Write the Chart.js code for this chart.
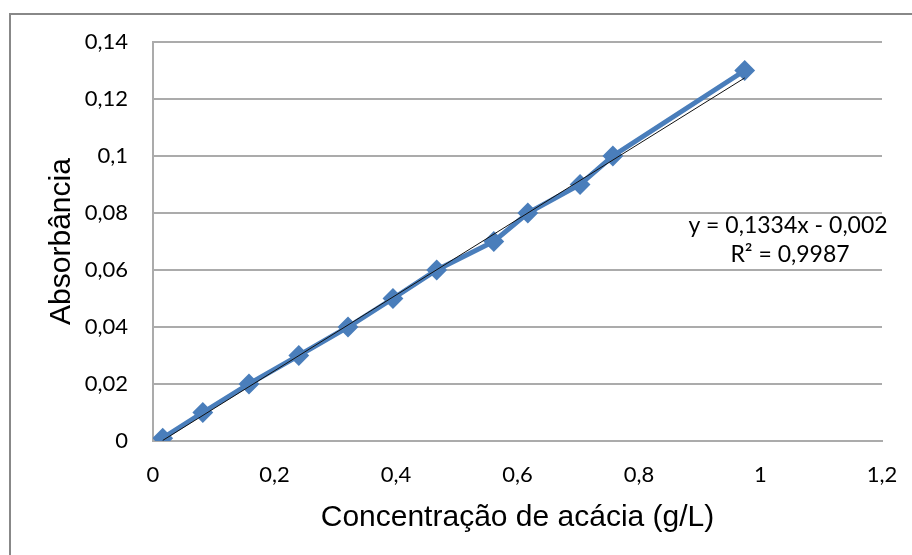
<!DOCTYPE html>
<html>
<head>
<meta charset="utf-8">
<script src="https://cdn.jsdelivr.net/npm/chart.js@4.4.1/dist/chart.umd.min.js"></script>
<style>
    html, body { margin: 0; padding: 0; background: #fff; }
    .frame {
        position: absolute; left: 9px; top: 13px; right: 0; bottom: 0;
        border-left: 2px solid #888; border-top: 2px solid #888;
    }
    #curve { position: absolute; left: 0; top: 0; }
</style>
</head>
<body>
<div class="frame"></div>
<canvas id="curve" width="912" height="555"></canvas>
<script>
// Calibration data (concentration in g/L, absorbance)
const concentration = [0.016, 0.082, 0.158, 0.240, 0.321, 0.395, 0.467, 0.561, 0.617, 0.703, 0.757, 0.974];
const absorbance   = [0.001, 0.01, 0.02, 0.03, 0.04, 0.05, 0.06, 0.07, 0.08, 0.09, 0.10, 0.13];

// Linear trendline ends, as drawn
const trendX = [0.016, 0.974];
const trendY = [0.0002, 0.1274];

const xTickValues = [0, 0.2, 0.4, 0.6, 0.8, 1, 1.2];
const xTickLabels = ['0', '0,2', '0,4', '0,6', '0,8', '1', '1,2'];
const yTickValues = [0, 0.02, 0.04, 0.06, 0.08, 0.1, 0.12, 0.14];
const yTickLabels = ['0', '0,02', '0,04', '0,06', '0,08', '0,1', '0,12', '0,14'];

const equationLines = ['y = 0,1334x - 0,002', 'R² = 0,9987'];

const toPoints = (xs, ys) => xs.map((x, i) => ({ x: x, y: ys[i] }));

// Trendline equation label
const equationLabel = {
    id: 'equationLabel',
    afterDraw(chart) {
        const ctx = chart.ctx;
        ctx.save();
        ctx.font = "23px Lato, sans-serif";
        ctx.fillStyle = '#000';
        ctx.textAlign = 'center';
        ctx.textBaseline = 'middle';
        ctx.fillText(equationLines[0], 788, 226);
        ctx.fillText(equationLines[1], 790, 255);
        ctx.restore();
    }
};

const blue = '#4a7ebb';
const gridGray = '#ababab';

new Chart(document.getElementById('curve'), {
    type: 'scatter',
    data: {
        datasets: [
            {
                label: 'Linear',
                data: toPoints(trendX, trendY),
                showLine: true,
                borderColor: '#111',
                borderWidth: 1,
                pointRadius: 0,
                order: 0
            },
            {
                label: 'Absorbância',
                data: toPoints(concentration, absorbance),
                showLine: true,
                borderColor: blue,
                backgroundColor: blue,
                borderWidth: 5,
                pointStyle: 'rectRot',
                pointRadius: 9,
                pointBorderWidth: 2,
                pointBorderColor: blue,
                pointBackgroundColor: blue,
                order: 1
            }
        ]
    },
    options: {
        responsive: false,
        animation: false,
        layout: { padding: { top: 42, right: 30, left: 0, bottom: 0 } },
        plugins: { legend: { display: false }, tooltip: { enabled: false } },
        scales: {
            x: {
                type: 'linear',
                min: 0,
                max: 1.2,
                afterBuildTicks: s => { s.ticks = xTickValues.map(v => ({ value: v })); },
                afterFit: s => { s.height = 114; s.paddingRight = 0; s.paddingLeft = 0; },
                grid: { display: false, drawTicks: false },
                border: { display: true, color: gridGray, width: 2 },
                ticks: {
                    padding: 21,
                    color: '#000',
                    font: { family: 'Lato', size: 22 },
                    callback: (v, i) => xTickLabels[i]
                },
                title: {
                    display: true,
                    text: 'Concentração de acácia (g/L)',
                    color: '#000',
                    font: { family: 'Liberation Sans', size: 30 },
                    padding: { top: 0, bottom: 19 }
                }
            },
            y: {
                type: 'linear',
                min: 0,
                max: 0.14,
                afterBuildTicks: s => { s.ticks = yTickValues.map(v => ({ value: v })); },
                afterFit: s => { s.width = 153; },
                grid: { color: gridGray, lineWidth: 2, drawTicks: false },
                border: { display: true, color: gridGray, width: 2 },
                ticks: {
                    padding: 25,
                    color: '#000',
                    font: { family: 'Lato', size: 22 },
                    callback: (v, i) => yTickLabels[i]
                },
                title: {
                    display: true,
                    text: 'Absorbância',
                    color: '#000',
                    font: { family: 'Liberation Sans', size: 30 },
                    padding: { top: 44, bottom: 0 }
                }
            }
        }
    },
    plugins: [equationLabel]
});
</script>
</body>
</html>
